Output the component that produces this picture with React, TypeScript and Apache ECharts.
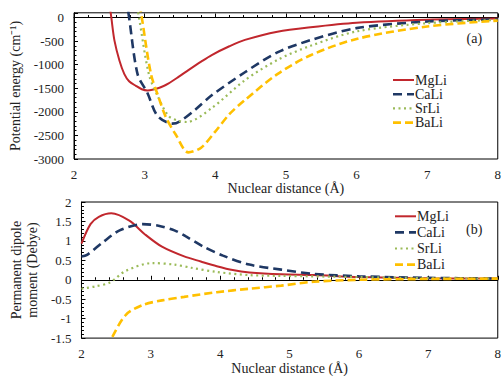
import React, { useEffect, useRef } from "react";
import * as echarts from "echarts";

// ---- Panel (a): potential energy (cm^-1) vs nuclear distance (Å)
const mgliER = [2.5, 2.53, 2.573, 2.643, 2.713, 2.78, 2.877, 2.96, 3.04, 3.2, 3.34, 3.48, 3.62, 3.8, 3.95, 4.2, 4.42, 4.88, 5.35, 6.0, 7.0, 8.0];
const mgliE = [330, -20, -490, -910, -1200, -1350, -1450, -1520, -1545, -1495, -1395, -1260, -1115, -935, -795, -610, -475, -300, -205, -110, -46, -22];

const caliER = [2.74, 2.78, 2.9, 3.04, 3.18, 3.39, 3.5, 3.72, 3.95, 4.42, 4.88, 5.35, 6.0, 7.0, 8.0];
const caliE = [420, 0, -1200, -1600, -2080, -2250, -2200, -1950, -1650, -1160, -740, -480, -225, -85, -40];

const srliER = [2.88, 2.92, 3.06, 3.18, 3.34, 3.48, 3.6, 3.95, 4.42, 4.88, 5.35, 6.0, 7.0, 8.0];
const srliE = [340, 0, -1200, -1650, -2090, -2190, -2215, -1920, -1330, -900, -600, -295, -120, -50];

const baliER = [2.93, 2.96, 3.09, 3.2, 3.3, 3.44, 3.62, 3.8, 4.0, 4.2, 4.42, 4.88, 5.35, 6.0, 7.0, 8.0];
const baliE = [280, 0, -1200, -1700, -2110, -2480, -2860, -2760, -2420, -2050, -1750, -1200, -800, -455, -190, -65];

// ---- Panel (b): permanent dipole moment (Debye) vs nuclear distance (Å)
const mgliDR = [2.0, 2.13, 2.25, 2.43, 2.69, 2.92, 3.16, 3.48, 3.72, 3.95, 4.18, 4.42, 4.88, 5.35, 6.0, 7.0, 8.0];
const mgliD = [0.93, 1.43, 1.62, 1.71, 1.52, 1.16, 0.85, 0.6, 0.47, 0.35, 0.25, 0.19, 0.14, 0.12, 0.07, 0.04, 0.03];

const caliDR = [2.0, 2.08, 2.32, 2.55, 2.88, 3.11, 3.34, 3.5, 3.76, 4.04, 4.42, 4.88, 5.35, 6.0, 7.0, 8.0];
const caliD = [0.6, 0.64, 0.98, 1.27, 1.43, 1.39, 1.27, 1.12, 0.85, 0.62, 0.39, 0.26, 0.15, 0.09, 0.05, 0.03];

const srliDR = [2.0, 2.2, 2.41, 2.64, 3.02, 3.34, 3.58, 3.95, 4.42, 4.88, 6.0, 7.0, 8.0];
const srliD = [-0.23, -0.17, -0.07, 0.23, 0.43, 0.39, 0.31, 0.2, 0.12, 0.1, 0.07, 0.04, 0.03];

const baliDR = [2.38, 2.43, 2.64, 2.88, 3.16, 3.48, 3.95, 4.42, 4.88, 5.35, 6.0, 7.0, 8.0];
const baliD = [-1.75, -1.52, -0.9, -0.65, -0.53, -0.44, -0.32, -0.23, -0.15, -0.05, 0.0, 0.02, 0.03];

const seriesNames = ["MgLi", "CaLi", "SrLi", "BaLi"];
const xTicks = [2, 3, 4, 5, 6, 7, 8];

const FONT = "Liberation Serif";
const TEXT = "#222";
const colors = ["#C1272D", "#1F3864", "#9BBB59", "#FFC000"];
const widths = [2, 2.6, 2.2, 2.6];
const dashes: (number[] | null)[] = [null, [9, 5], [2, 3.5], [8, 4]];

const zip = (xs: number[], ys: number[]) => xs.map((x, i) => [x, ys[i]]);

function legendGraphics(x0: number, ys: number[]) {
  const out: any[] = [];
  seriesNames.forEach((name, i) => {
    out.push({
      type: "line",
      shape: { x1: x0, y1: ys[i], x2: x0 + 21, y2: ys[i] },
      style: {
        stroke: colors[i],
        lineWidth: widths[i],
        lineDash: dashes[i] || undefined,
      },
      silent: true,
    });
    out.push({
      type: "text",
      x: x0 + 22,
      y: ys[i],
      style: {
        text: name,
        fontFamily: FONT,
        fontSize: 14,
        fill: TEXT,
        textVerticalAlign: "middle",
        verticalAlign: "middle",
      },
      silent: true,
    });
  });
  return out;
}

export default function App() {
  const ref = useRef<HTMLDivElement>(null);
  useEffect(() => {
    if (!ref.current) return;
    const chart = echarts.init(ref.current, null, { renderer: "svg" });
    const energy = [
      zip(mgliER, mgliE),
      zip(caliER, caliE),
      zip(srliER, srliE),
      zip(baliER, baliE),
    ];
    const dipole = [
      zip(mgliDR, mgliD),
      zip(caliDR, caliD),
      zip(srliDR, srliD),
      zip(baliDR, baliD),
    ];
    const mkSeries = (data: number[][], i: number, panel: number) => ({
      name: seriesNames[i],
      type: "line",
      xAxisIndex: panel,
      yAxisIndex: panel,
      data,
      smooth: 0.3,
      symbol: "none",
      clip: true,
      lineStyle: { color: colors[i], width: widths[i], type: dashes[i] || "solid" },
      itemStyle: { color: colors[i] },
    });
    const labelStyle = { fontFamily: FONT, fontSize: 13, color: TEXT };
    const xAxisBase = (gridIndex: number) => ({
      type: "value",
      gridIndex,
      min: xTicks[0],
      max: xTicks[xTicks.length - 1],
      interval: 1,
      name: "Nuclear distance (Å)",
      nameLocation: "middle",
      nameGap: 22,
      nameTextStyle: { fontFamily: FONT, fontSize: 14, color: TEXT },
      axisLine: { lineStyle: { color: "#000", width: 1 } },
      axisTick: { inside: true, length: 4, lineStyle: { color: "#000" } },
      minorTick: { show: true, splitNumber: 5, length: 2.5, lineStyle: { color: "#000" } },
      axisLabel: { ...labelStyle, margin: 9 },
      splitLine: { show: false },
    });
    const option: any = {
      animation: false,
      backgroundColor: "#fff",
      grid: [
        { left: 74, top: 12.8, width: 429, height: 146.2, show: true, borderColor: "#000", borderWidth: 1 },
        { left: 74, top: 202, width: 429, height: 140, show: true, borderColor: "#000", borderWidth: 1 },
      ],
      xAxis: [xAxisBase(0), xAxisBase(1)],
      yAxis: [
        {
          type: "value",
          gridIndex: 0,
          min: -3000,
          max: 100,
          interval: 500,
          name: "Potential energy (cm⁻¹)",
          nameLocation: "middle",
          nameGap: 52,
          nameTextStyle: { fontFamily: FONT, fontSize: 14, color: TEXT },
          axisLine: { show: true, lineStyle: { color: "#000" } },
          axisTick: { inside: true, length: 4, lineStyle: { color: "#000" } },
          minorTick: { show: true, splitNumber: 5, length: 2.5, lineStyle: { color: "#000" } },
          axisLabel: {
            ...labelStyle,
            margin: 10,
            formatter: (v: number) => (v % 500 === 0 ? String(v) : ""),
          },
          splitLine: { show: false },
        },
        {
          type: "value",
          gridIndex: 1,
          min: -1.5,
          max: 2,
          interval: 0.5,
          name: "Permanent dipole\nmoment (Debye)",
          nameLocation: "middle",
          nameGap: 34,
          nameTextStyle: { fontFamily: FONT, fontSize: 14, color: TEXT, lineHeight: 16 },
          axisLine: { show: true, lineStyle: { color: "#000" } },
          axisTick: { inside: true, length: 4, lineStyle: { color: "#000" } },
          minorTick: { show: true, splitNumber: 5, length: 2.5, lineStyle: { color: "#000" } },
          axisLabel: { ...labelStyle, margin: 10 },
          splitLine: { show: false },
        },
      ],
      graphic: [
        ...legendGraphics(393, [80, 94.2, 108.4, 122.6]),
        ...legendGraphics(395, [216.3, 232.4, 248.5, 264.6]),
        {
          type: "text",
          x: 466.5,
          y: 38,
          style: { text: "(a)", fontFamily: FONT, fontSize: 14, fill: TEXT, verticalAlign: "middle", textVerticalAlign: "middle" },
        },
        {
          type: "text",
          x: 466,
          y: 229,
          style: { text: "(b)", fontFamily: FONT, fontSize: 14, fill: TEXT, verticalAlign: "middle", textVerticalAlign: "middle" },
        },
      ],
      series: [
        ...energy.map((d, i) => mkSeries(d, i, 0)),
        ...dipole.map((d, i) => mkSeries(d, i, 1)),
      ],
    };
    chart.setOption(option);
    return () => chart.dispose();
  }, []);
  return (
    <div
      ref={ref}
      style={{ position: "fixed", left: 0, top: 0, width: 504, height: 376 }}
    />
  );
}
